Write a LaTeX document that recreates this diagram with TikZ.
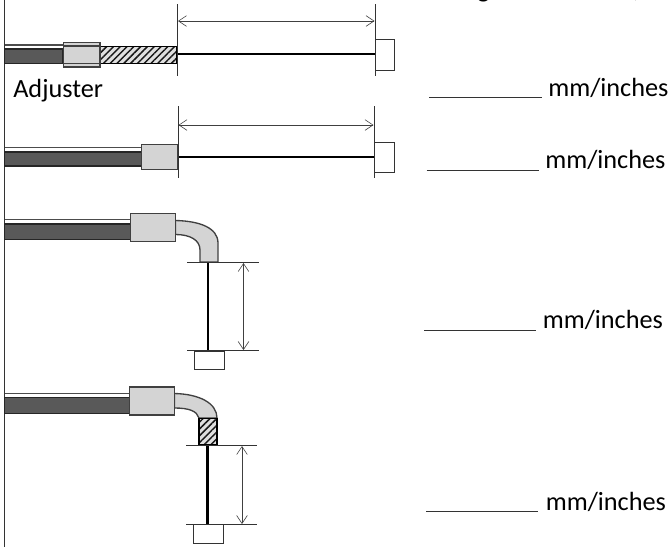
\documentclass[tikz,border=0pt]{standalone}
\usepackage{fontspec}
\setmainfont{Carlito}
\usetikzlibrary{arrows.meta}
\usetikzlibrary{patterns.meta}

\tikzset{
    px/.style={x=0.75pt,y=-0.75pt},
    edge/.style={line width=0.7pt,color=black!80},
    body/.style={draw=black!85,line width=0.9pt,fill=black!65},
    strip/.style={line width=1.3pt,color=black!70},
    sleeve/.style={draw=black!75,line width=1pt,fill=black!17},
    hatched/.style={pattern={Lines[angle=45,distance=3.6pt,line width=1.1pt]},pattern color=black!90},
    rod/.style={line width=1.6pt,color=black},
    span/.style={<->,>={Straight Barb[length=6pt,width=8pt]},line width=0.45pt,color=black!75},
    label/.style={font=\fontsize{19.7}{23}\selectfont,inner sep=0pt,anchor=base west}
}

\begin{document}
\begin{tikzpicture}[px]
        \useasboundingbox (0,0) rectangle (670,547);
        \draw [edge] (4.5,0) -- (4.5,547);
        % cut off heading
        \node [label] (headG) at (477,-2.5) {g};
        \node [label] (headC) at (633,-2.5) {,};

        % straight with adjuster
        \draw [strip] (4.5,45) -- (63,45);
        \draw [body] (4.5,49) rectangle (63,63.5);
        \fill [black!12] (100,46.5) rectangle (177,63.5);
        \draw [hatched] (100,46.5) rectangle (177,63.5);
        \draw [line width=0.9pt] (100,46.5) rectangle (177,63.5);
        \draw [sleeve] (63.5,42.5) rectangle (100,67);
        \draw [sleeve,fill=none] (63.5,46) -- (100,46);
        \draw [sleeve,fill=none] (63.5,63.5) -- (100,63.5);
        \draw [rod] (177,54) -- (375,54);
        \draw [edge] (177.5,4) -- (177.5,76);
        \draw [edge] (375,4) -- (375,76);
        \draw [edge,fill=white] (375,39.5) rectangle (394,70);
        \coordinate (spanAl) at (178,21);
        \coordinate (spanAr) at (374.5,21);
        \draw [span] (spanAl) -- (spanAr);
        \node [label] (adjuster) at (13,97) {Adjuster};
        \draw [edge] (429,97.5) -- (541.5,97.5);
        \node [label] (unitA) at (548,96.5) {mm/inches};

        % straight
        \draw [strip] (4.5,147.5) -- (141.5,147.5);
        \draw [body] (4.5,152) rectangle (141.5,166);
        \draw [sleeve] (141.5,144.5) rectangle (178,169.5);
        \draw [rod] (178,157) -- (374,157);
        \draw [edge] (178,106) -- (178,178);
        \draw [edge] (374,106) -- (374,178);
        \draw [edge,fill=white] (374,142) rectangle (394,172);
        \coordinate (spanBl) at (178.5,125);
        \coordinate (spanBr) at (373.5,125);
        \draw [span] (spanBl) -- (spanBr);
        \draw [edge] (426.5,170) -- (539,170);
        \node [label] (unitB) at (545,168) {mm/inches};

        % elbow
        \draw [strip] (4.5,219.5) -- (130.5,219.5);
        \draw [body] (4.5,224) rectangle (130.5,239.5);
        \draw [sleeve] (175.5,220.5) .. controls (200,221) and (218,228) .. (218,243) -- (218,262) -- (200,262) -- (200,250) .. controls (200,240) and (190,234.5) .. (175.5,234.5) -- cycle;
        \draw [sleeve] (130.5,213.5) rectangle (175.5,241.5);
        \draw [rod] (208,262) -- (208,350);
        \draw [edge] (187,262) -- (259,262);
        \draw [edge] (187,350) -- (259,350);
        \draw [edge,fill=white] (194,351) rectangle (224,369.5);
        \coordinate (spanCt) at (243.5,263);
        \coordinate (spanCb) at (243.5,350);
        \draw [span] (spanCt) -- (spanCb);
        \draw [edge] (424,330.7) -- (536,330.7);
        \node [label] (unitC) at (542.5,328.5) {mm/inches};

        % elbow with adjuster
        \draw [strip] (4.5,393.5) -- (129.5,393.5);
        \draw [body] (4.5,397.5) rectangle (129.5,413.5);
        \draw [sleeve] (174.5,393.5) .. controls (199,394) and (217,403) .. (217,418) -- (199,418) .. controls (197,411) and (189,408) .. (174.5,408) -- cycle;
        \draw [sleeve] (129.5,387) rectangle (174.5,415);
        \fill [black!12] (199,418.5) rectangle (217,445);
        \draw [hatched] (199,418.5) rectangle (217,445);
        \draw [line width=0.9pt] (199,418.5) rectangle (217,445);
        \draw [rod] (207.5,445) -- (207.5,524);
        \draw [edge] (186,445) -- (257,445);
        \draw [edge] (186,524) -- (257,524);
        \draw [edge,fill=white] (193,524) rectangle (223,543);
        \coordinate (spanDt) at (242,446);
        \coordinate (spanDb) at (242,524);
        \draw [span] (spanDt) -- (spanDb);
        \draw [edge] (426,511.7) -- (538,511.7);
        \node [label] (unitD) at (545.5,510) {mm/inches};
    \end{tikzpicture}
\end{document}
